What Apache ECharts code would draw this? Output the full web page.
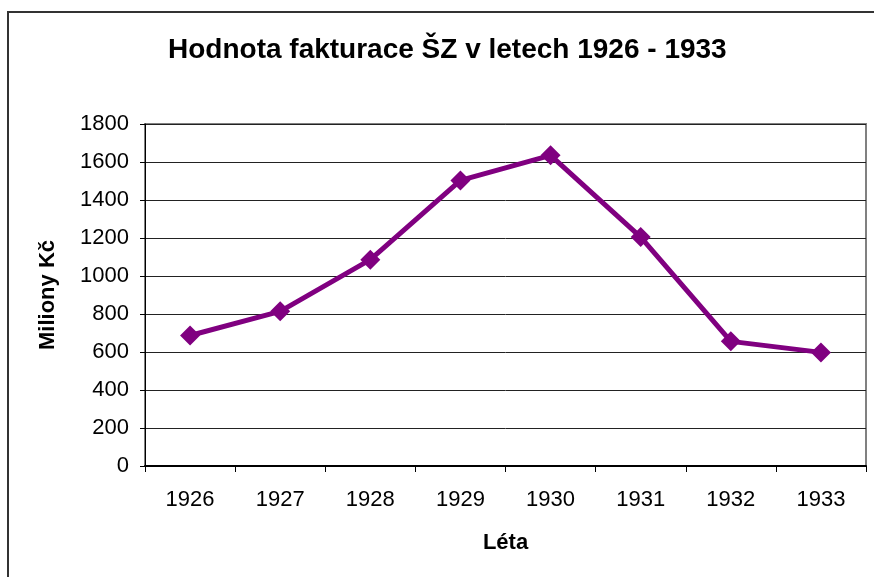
<!DOCTYPE html>
<html><head><meta charset="utf-8">
<script src="https://cdn.jsdelivr.net/npm/echarts@6/dist/echarts.min.js"></script>
<style>html,body{margin:0;padding:0;background:#fff}#c{width:874px;height:577px}</style>
</head><body><div id="c"></div>
<script>
const categories = ['1926','1927','1928','1929','1930','1931','1932','1933'];
const values = [687, 814, 1086, 1503, 1635, 1205, 656, 598];
const titleText = 'Hodnota fakturace ŠZ v letech 1926 - 1933';
const yName = 'Miliony Kč';
const xName = 'Léta';

const chart = echarts.init(document.getElementById('c'), null, {renderer:'canvas'});
const F = '"Liberation Sans", Arial, sans-serif';
chart.setOption({
  animation: false,
  backgroundColor: '#fff',
  title: { text: titleText, left: 163, top: 31,
    textStyle: { fontFamily: F, fontSize: 28, fontWeight: 'bold', color: '#000' } },
  graphic: [{ type: 'rect', shape: { x: 8, y: 12, width: 900, height: 600 },
    style: { fill: 'none', stroke: '#333', lineWidth: 2 }, silent: true }],
  grid: { left: 145, right: 8, top: 124, bottom: 111, show: true, borderColor: '#808080', borderWidth: 2, backgroundColor: 'transparent' },
  xAxis: { type: 'category', data: categories, boundaryGap: true,
    name: xName, nameLocation: 'middle', nameGap: 66,
    nameTextStyle: { fontFamily: F, fontSize: 22, fontWeight: 'bold', color: '#000' },
    axisLine: { lineStyle: { color: '#000', width: 2 } },
    axisTick: { show: true, length: 6, lineStyle: { color: '#000' } },
    axisLabel: { fontFamily: F, fontSize: 22, color: '#000', margin: 23 } },
  yAxis: { type: 'value', min: 0, max: 1800, interval: 200,
    name: yName, nameLocation: 'middle', nameGap: 86,
    nameTextStyle: { fontFamily: F, fontSize: 22, fontWeight: 'bold', color: '#000' },
    axisLine: { show: true, lineStyle: { color: '#000', width: 1 } },
    axisTick: { show: true, length: 5, lineStyle: { color: '#000' } },
    axisLabel: { fontFamily: F, fontSize: 22, color: '#000', margin: 16, formatter: v => String(v) },
    splitLine: { show: true, lineStyle: { color: '#222', width: 1 } } },
  series: [{ type: 'line', data: values, symbol: 'diamond', symbolSize: 20,
    lineStyle: { color: '#800080', width: 5 },
    itemStyle: { color: '#800080' } }]
});
</script></body></html>
